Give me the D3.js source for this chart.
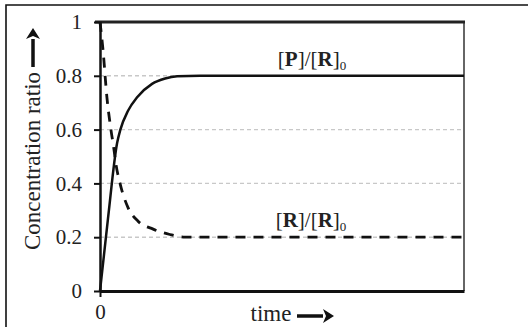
<!DOCTYPE html>
<html>
<head>
<meta charset="utf-8">
<script src="https://cdn.jsdelivr.net/npm/d3@7"></script>
<style>
  body { margin: 0; background: #fff; }
</style>
</head>
<body>
<svg id="chart" width="528" height="327"></svg>
<script>
// values (time in arbitrary units, 0..100)
const productTime = [0, 2.2, 4.7, 5.6, 7.7, 10.2, 14.3, 17.9, 21.2, 27.5, 100];
const productRatio = [0, 0.27, 0.55, 0.60, 0.67, 0.72, 0.77, 0.79, 0.798, 0.8, 0.8];
const reactantTime = [0, 0.8, 1.9, 3.0, 3.8, 4.4, 5.5, 7.7, 10.4, 14.6, 19.2, 23.4, 100];
const reactantRatio = [1, 0.90, 0.72, 0.60, 0.53, 0.47, 0.40, 0.31, 0.26, 0.23, 0.21, 0.20, 0.20];
const yTicks = [0, 0.2, 0.4, 0.6, 0.8, 1];
const gridTicks = [0.2, 0.4, 0.6, 0.8];
const xTicks = [0];

const FONT = "Liberation Serif";
const svg = d3.select("#chart");
const margin = {left: 100, top: 22, right: 64, bottom: 36};
const W = 528, H = 327;

const x = d3.scaleLinear().domain([0, 100]).range([margin.left, W - margin.right]);
const y = d3.scaleLinear().domain([0, 1]).range([H - margin.bottom, margin.top]);

// outer frame
svg.append("path")
  .attr("d", `M6,${H + 2} V5 H${W + 2}`)
  .attr("fill", "none").attr("stroke", "#111").attr("stroke-width", 1.6);

// gridlines
svg.append("g").selectAll("line").data(gridTicks).join("line")
  .attr("x1", x(0)).attr("x2", x(100))
  .attr("y1", d => y(d)).attr("y2", d => y(d))
  .attr("stroke", "#c8c8c8").attr("stroke-width", 1.4)
  .attr("stroke-dasharray", "4,3");

// right border
svg.append("line")
  .attr("x1", x(100)).attr("x2", x(100)).attr("y1", y(1)).attr("y2", y(0))
  .attr("stroke", "#666").attr("stroke-width", 2);

// top line at 1
svg.append("line")
  .attr("x1", x(0) - 5).attr("x2", x(100) + 1).attr("y1", y(1)).attr("y2", y(1))
  .attr("stroke", "#222").attr("stroke-width", 3);

// y axis
const yAxis = svg.append("g")
  .attr("transform", `translate(${x(0)},0)`)
  .call(d3.axisLeft(y).tickValues(yTicks).tickSize(6).tickSizeOuter(0).tickPadding(12)
    .tickFormat(d => d === 0 || d === 1 ? d3.format("d")(d) : d3.format(".1f")(d)));
yAxis.attr("font-family", null).attr("font-size", null);
yAxis.select(".domain").attr("stroke", "#111").attr("stroke-width", 2.5);
yAxis.selectAll(".tick line").attr("stroke", "#111").attr("stroke-width", 2);
yAxis.selectAll(".tick text").style("font", `21px ${FONT}`).attr("fill", "#222");

// x axis
const xAxis = svg.append("g")
  .attr("transform", `translate(0,${y(0)})`)
  .call(d3.axisBottom(x).tickValues(xTicks).tickSize(6).tickSizeOuter(0).tickPadding(7).tickFormat(d3.format("d")));
xAxis.attr("font-family", null).attr("font-size", null);
xAxis.select(".domain").attr("stroke", "#111").attr("stroke-width", 3);
xAxis.selectAll(".tick line").attr("stroke", "#111").attr("stroke-width", 2);
xAxis.selectAll(".tick text").style("font", `21px ${FONT}`).attr("fill", "#222");

// curves
const line = d3.line().x(d => x(d[0])).y(d => y(d[1])).curve(d3.curveMonotoneX);

svg.append("path")
  .datum(d3.zip(productTime, productRatio))
  .attr("d", line)
  .attr("fill", "none").attr("stroke", "#111").attr("stroke-width", 2.5);

svg.append("path")
  .datum(d3.zip(reactantTime, reactantRatio))
  .attr("d", line)
  .attr("fill", "none").attr("stroke", "#111").attr("stroke-width", 2.8)
  .attr("stroke-dasharray", "10,8");

// curve labels
function ratioLabel(cx, cy, species) {
  const t = svg.append("text")
    .attr("x", cx).attr("y", cy)
    .attr("text-anchor", "middle").style("font", `21px ${FONT}`).attr("fill", "#222");
  t.append("tspan").text("[");
  t.append("tspan").style("font-weight", "bold").text(species);
  t.append("tspan").text("]/[");
  t.append("tspan").style("font-weight", "bold").text("R");
  t.append("tspan").text("]");
  t.append("tspan").style("font-size", "13px").attr("dy", 4).text("0");
}
ratioLabel(312, 66, "P");
ratioLabel(311, 227, "R");

// arrow helper
function arrow(x1, y1, x2, y2) {
  const ang = Math.atan2(y2 - y1, x2 - x1);
  const hl = 11, hw = 7;
  const bx = x2 - hl * Math.cos(ang), by = y2 - hl * Math.sin(ang);
  svg.append("line")
    .attr("x1", x1).attr("y1", y1).attr("x2", bx).attr("y2", by)
    .attr("stroke", "#111").attr("stroke-width", 3.5);
  svg.append("path")
    .attr("d", `M${x2},${y2} L${bx - hw * Math.sin(ang)},${by + hw * Math.cos(ang)} L${bx + 3 * Math.cos(ang)},${by + 3 * Math.sin(ang)} L${bx + hw * Math.sin(ang)},${by - hw * Math.cos(ang)} Z`)
    .attr("fill", "#111");
}

// axis titles
svg.append("text")
  .attr("transform", "translate(40,161) rotate(-90)")
  .attr("text-anchor", "middle").style("font", `23px ${FONT}`).attr("fill", "#222")
  .text("Concentration ratio");
arrow(33, 67, 33, 28);

svg.append("text")
  .attr("x", 271).attr("y", 321)
  .attr("text-anchor", "middle").style("font", `23px ${FONT}`).attr("fill", "#222")
  .text("time");
arrow(297, 316, 334, 316);
</script>
</body>
</html>
